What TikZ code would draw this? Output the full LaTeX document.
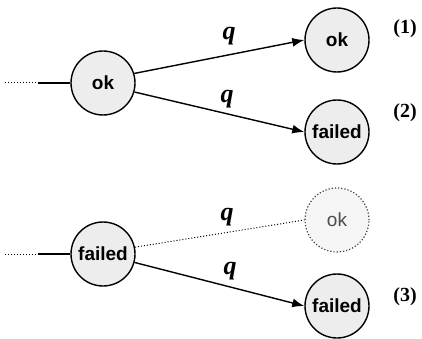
\documentclass[tikz,border=0pt]{standalone}
\usepackage{fontspec}
\usetikzlibrary{arrows.meta}
\setmainfont{Liberation Serif}
\newfontfamily\arialf{Liberation Sans}
\begin{document}
\begin{tikzpicture}[x=1pt,y=-1pt,
  state/.style={circle,draw,line width=1.4pt,fill=gray!14,minimum size=64pt,inner sep=0pt,
    font=\arialf\bfseries\fontsize{19}{19}\selectfont},
  ghost/.style={circle,draw=black!75,dotted,line width=1.2pt,fill=gray!8,minimum size=64pt,inner sep=0pt,
    text=black!70,font=\arialf\fontsize{19}{19}\selectfont},
  trans/.style={line width=1.4pt,-{Latex[length=12pt,width=9pt]}},
  qlab/.style={anchor=base,inner sep=0pt,font=\bfseries\itshape\fontsize{26}{26}\selectfont},
  numlab/.style={font=\bfseries\fontsize{20}{20}\selectfont},
  feed/.style={line width=1.4pt}]
\useasboundingbox (0,0) rectangle (422,339);
% top
\node[state] (okA) at (103,83) {ok};
\node[state] (okB) at (337,40) {ok};
\node[state] (failB) at (337,132) {failed};
\coordinate (inA0) at (5,83);
\coordinate (inA1) at (38,83);
\draw[dotted,line width=1pt] (inA0) -- (inA1);
\draw[feed] (inA1) -- (okA.west);
\draw[trans] (okA.17) -- (okB.west);
\draw[trans] (okA.-16) -- (failB.west);
\node[qlab] (q1) at (229,40) {q};
\node[qlab] (q2) at (227,103) {q};
\node[numlab] (n1) at (405,29) {(1)};
\node[numlab] (n2) at (405,113) {(2)};
% bottom
\node[state] (failA) at (103,254) {failed};
\node[ghost] (okC) at (337,220) {ok};
\node[state] (failC) at (337,306) {failed};
\coordinate (inB0) at (5,254);
\coordinate (inB1) at (38,254);
\draw[dotted,line width=1pt] (inB0) -- (inB1);
\draw[feed] (inB1) -- (failA.west);
\draw[line width=1pt,dotted] (failA.12) -- (okC.west);
\draw[trans] (failA.-15) -- (failC.west);
\node[qlab] (q3) at (227,220) {q};
\node[qlab] (q4) at (230,274) {q};
\node[numlab] (n3) at (405,297) {(3)};
\end{tikzpicture}
\end{document}
